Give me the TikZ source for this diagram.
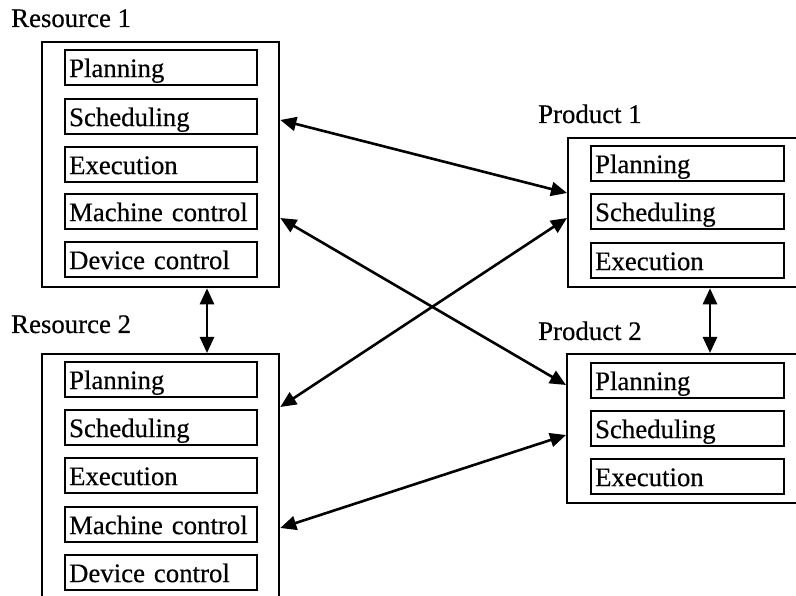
\documentclass[tikz,border=0pt]{standalone}
\usepackage{fontspec}
\setmainfont{Liberation Serif}[FakeBold=0.4]
\usetikzlibrary{arrows.meta}
\begin{document}
\begin{tikzpicture}[x=1pt,y=-1pt,
  font=\fontsize{26.8}{30}\selectfont,
  outerbox/.style={draw, line width=2.3pt, inner sep=0pt, anchor=north west},
  innerbox/.style={draw, line width=2.2pt, anchor=north west, inner xsep=4pt, inner ysep=0pt,
    text width=184pt, align=left, minimum height=35pt, text height=25pt, text depth=6pt},
  lbl/.style={anchor=base west, inner sep=0pt},
  link/.style={line width=2.6pt, {Triangle[length=16pt,width=14pt]}-{Triangle[length=16pt,width=14pt]}}]
\useasboundingbox[fill=white] (0,0) rectangle (796,596);
% labels
\node[lbl] (lr1) at (11,27) {Resource 1};
\node[lbl] (lr2) at (11,333) {Resource 2};
\node[lbl] (lp1) at (538,123) {Product 1};
\node[lbl] (lp2) at (538,340) {Product 2};
% outer boxes
\node[outerbox, minimum width=237pt, minimum height=245pt] (r1) at (41,41) {};
\node[outerbox, minimum width=237pt, minimum height=290pt] (r2) at (41,353) {};
\node[outerbox, minimum width=260pt, minimum height=149pt] (p1) at (567,137) {};
\node[outerbox, minimum width=260pt, minimum height=149pt] (p2) at (566,353) {};
% Resource 1 inner
\node[innerbox] (r1a) at (64,49) {Planning};
\node[innerbox] (r1b) at (64,98) {Scheduling};
\node[innerbox] (r1c) at (64,146) {Execution};
\node[innerbox] (r1d) at (64,193) {Machine control};
\node[innerbox] (r1e) at (64,241) {Device control};
% Resource 2 inner
\node[innerbox] (r2a) at (64,361) {Planning};
\node[innerbox] (r2b) at (64,409) {Scheduling};
\node[innerbox] (r2c) at (64,457) {Execution};
\node[innerbox] (r2d) at (64,506) {Machine control};
\node[innerbox] (r2e) at (64,554) {Device control};
% Product 1 inner
\node[innerbox, text width=185pt] (p1a) at (590,145) {Planning};
\node[innerbox, text width=185pt] (p1b) at (590,193) {Scheduling};
\node[innerbox, text width=185pt] (p1c) at (590,242) {Execution};
% Product 2 inner
\node[innerbox, text width=185pt] (p2a) at (590,362) {Planning};
\node[innerbox, text width=185pt] (p2b) at (590,410) {Scheduling};
\node[innerbox, text width=185pt] (p2c) at (590,458) {Execution};
% connectors
\draw[link] ([yshift=-79pt]r1.north east) -- ([yshift=-56pt]p1.north west);
\draw[link] ([yshift=-177pt]r1.north east) -- ([yshift=-32pt]p2.north west);
\draw[link] ([yshift=-54pt]r2.north east) -- ([yshift=-81pt]p1.north west);
\draw[link] ([yshift=-175pt]r2.north east) -- ([yshift=-82pt]p2.north west);
\draw[link] ([xshift=166pt]r1.south west) -- ([xshift=166pt]r2.north west);
\draw[link] ([xshift=143pt]p1.south west) -- ([xshift=144pt]p2.north west);
\end{tikzpicture}
\end{document}
